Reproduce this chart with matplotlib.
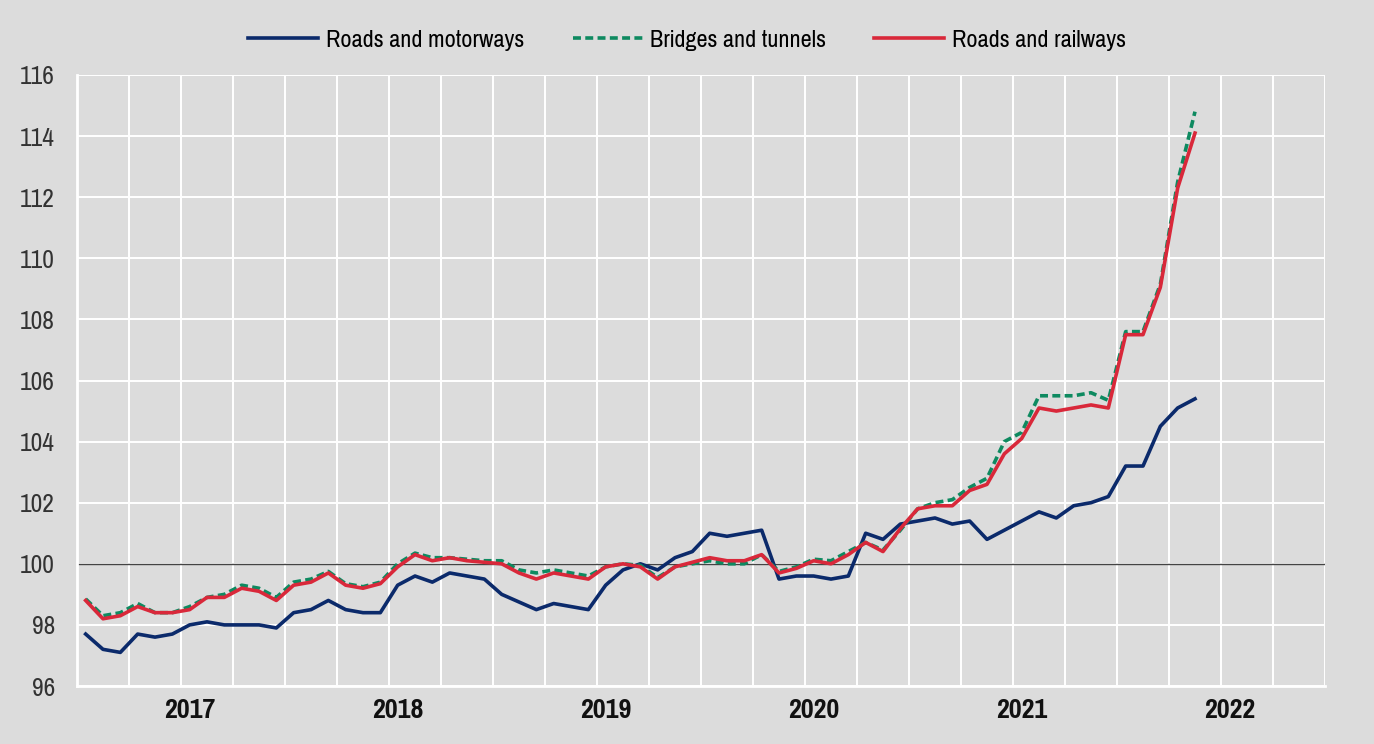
import numpy as np
import matplotlib
matplotlib.use("Agg")
import matplotlib.pyplot as plt

plt.rcParams['font.family'] = ['Pragati Narrow', 'Roboto Condensed', 'DejaVu Sans']

# monthly index values, Jul 2016 .. Nov 2021
roads_motorways = [97.7, 97.2, 97.1, 97.7, 97.6, 97.7, 98.0, 98.1, 98.0, 98.0,
                   98.0, 97.9, 98.4, 98.5, 98.8, 98.5, 98.4, 98.4, 99.3, 99.6,
                   99.4, 99.7, 99.6, 99.5, 99.0, 98.75, 98.5, 98.7, 98.6, 98.5,
                   99.3, 99.8, 100.0, 99.8, 100.2, 100.4, 101.0, 100.9, 101.0, 101.1,
                   99.5, 99.6, 99.6, 99.5, 99.6, 101.0, 100.8, 101.3, 101.4, 101.5,
                   101.3, 101.4, 100.8, 101.1, 101.4, 101.7, 101.5, 101.9, 102.0, 102.2,
                   103.2, 103.2, 104.5, 105.1, 105.4]
bridges_tunnels = [98.85, 98.3, 98.4, 98.7, 98.4, 98.4, 98.6, 98.9, 99.0, 99.3,
                   99.2, 98.9, 99.4, 99.5, 99.75, 99.35, 99.25, 99.4, 100.0, 100.35,
                   100.2, 100.2, 100.15, 100.1, 100.1, 99.8, 99.7, 99.8, 99.7, 99.6,
                   99.9, 100.0, 99.95, 99.55, 99.9, 100.0, 100.1, 100.0, 100.0, 100.3,
                   99.75, 99.9, 100.15, 100.1, 100.4, 100.7, 100.45, 101.1, 101.8, 102.0,
                   102.1, 102.5, 102.8, 104.0, 104.3, 105.5, 105.5, 105.5, 105.6, 105.35,
                   107.6, 107.6, 109.15, 112.5, 114.8]
roads_railways = [98.8, 98.2, 98.3, 98.6, 98.4, 98.4, 98.5, 98.9, 98.9, 99.2,
                  99.1, 98.8, 99.3, 99.4, 99.7, 99.3, 99.2, 99.35, 99.9, 100.3,
                  100.1, 100.2, 100.1, 100.05, 100.0, 99.7, 99.5, 99.7, 99.6, 99.5,
                  99.9, 100.0, 99.9, 99.5, 99.9, 100.05, 100.2, 100.1, 100.1, 100.3,
                  99.7, 99.85, 100.1, 100.0, 100.3, 100.7, 100.4, 101.15, 101.8, 101.9,
                  101.9, 102.4, 102.6, 103.6, 104.1, 105.1, 105.0, 105.1, 105.2, 105.1,
                  107.5, 107.5, 109.05, 112.3, 114.1]
years = ['2017', '2018', '2019', '2020', '2021', '2022']
n_slots = 72  # Jul 2016 .. Jun 2022

bg = '#dcdcdc'
fig = plt.figure(figsize=(13.74, 7.44), dpi=100, facecolor=bg)
ax = fig.add_axes([77/1374, 1 - 686/744, (1325 - 77)/1374, (686 - 75)/744])
ax.set_facecolor(bg)

x = np.arange(len(roads_motorways))
ax.axhline(100, color='#444444', lw=1.0, zorder=2)
ax.plot(x, roads_motorways, color='#0b2a6b', lw=2.6, label='Roads and motorways', zorder=3)
ax.plot(x, bridges_tunnels, color='#0e8a60', lw=2.6, ls=(0, (2.2, 1.2)),
        label='Bridges and tunnels', zorder=3)
ax.plot(x, roads_railways, color='#d9283a', lw=2.6, label='Roads and railways', zorder=4)

ax.set_xlim(-0.5, n_slots - 0.5)
ax.set_ylim(96, 116)
ax.set_yticks(np.arange(96, 117, 2))
ax.set_xticks(np.arange(6, n_slots, 12))
ax.set_xticklabels(years, fontsize=22, fontweight='bold', color='#111111')
ax.set_xticks(np.arange(-0.5, n_slots, 3), minor=True)
ax.tick_params(axis='x', which='both', length=0, pad=9)
ax.tick_params(axis='y', length=0, pad=16, labelsize=20, labelcolor='#333333')

ax.grid(False)
ax.grid(True, axis='y', color='white', lw=1.4, zorder=1)
ax.grid(True, axis='x', which='minor', color='white', lw=1.4, zorder=1)
for s in ax.spines.values():
    s.set_visible(False)
ax.spines['left'].set_visible(True)
ax.spines['left'].set_color('white')
ax.spines['left'].set_linewidth(2)
ax.spines['bottom'].set_visible(True)
ax.spines['bottom'].set_color('white')
ax.spines['bottom'].set_linewidth(2)
ax.set_axisbelow(True)

fig.legend(loc='center', bbox_to_anchor=(0.5, 1 - 40/744), ncol=3, frameon=False,
           fontsize=19, handlelength=2.65, columnspacing=1.85, handletextpad=0.27)

fig.savefig('out.png', dpi=100, facecolor=bg)
